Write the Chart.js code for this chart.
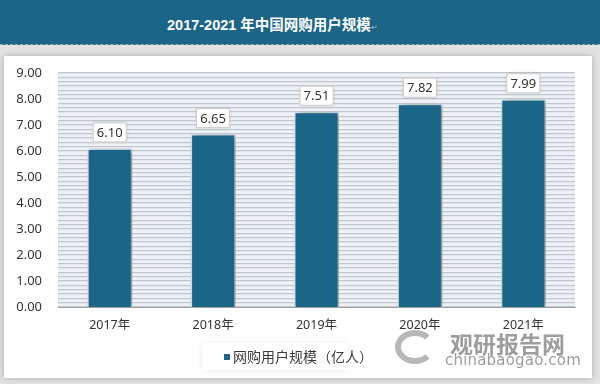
<!DOCTYPE html>
<html>
<head>
<meta charset="utf-8">
<script src="https://cdn.jsdelivr.net/npm/chart.js@4/dist/chart.umd.min.js"></script>
<style>
  body { margin: 0; width: 600px; height: 384px; background: #e2e2e2; overflow: hidden; position: relative;
         font-family: "Noto Sans", "Noto Sans CJK SC", sans-serif; }
  #titlebar { position: absolute; left: 0; top: 0; width: 600px; height: 44px; background: #1b6587;
              border-bottom: 1px dashed #8fb0c4; }
  #titlebar span { position: absolute; left: 167px; top: 13px; color: #fff; font: bold 14.5px "Liberation Sans", "Noto Sans CJK SC", sans-serif; }
  #titlebar small { font-size: 8px; color: #9fc0d4; font-weight: normal; }
  #panel { position: absolute; left: 4px; top: 56px; width: 588px; height: 322px; background: #fff;
           box-shadow: 0 0 6px rgba(0,0,0,0.25); }
  #chartbox { position: absolute; left: 0; top: 0; width: 600px; height: 384px; }
  #legend { position: absolute; left: 202px; top: 343px; width: 146px; height: 27px; background: #fff;
            box-shadow: 0 0 8px rgba(0,0,0,0.08); font: 14px "Noto Sans CJK SC", sans-serif; color: #3a3a3a; }
  #legend i { position: absolute; left: 22px; top: 11px; width: 6px; height: 6px; background: #1b6587; }
  #legend b { position: absolute; left: 31px; top: 3px; font-weight: normal; white-space: nowrap; }
  #mark { position: absolute; left: 395px; top: 326px; width: 185px; height: 44px; color: #858585; opacity: 0.8; }
  #mark .logo { position: absolute; left: 0; top: 4px; width: 40px; height: 34px; border-radius: 50%;
                border: 6px solid #a5a5a5; border-right-color: transparent; box-sizing: border-box; }
  #mark .cn { position: absolute; left: 55px; top: 0; font: bold 23px "Noto Sans CJK SC", sans-serif; }
  #mark .en { position: absolute; left: 50px; top: 25px; font: 15px "DejaVu Sans", sans-serif; letter-spacing: 0.2px; }
</style>
</head>
<body>
<div id="titlebar"><span>2017-2021 年中国网购用户规模<small>↵</small></span></div>
<div id="panel"></div>
<div id="chartbox"><canvas id="Chart" width="600" height="384"></canvas></div>
<div id="legend"><i></i><b>网购用户规模（亿人）</b></div>
<div id="mark"><div class="logo"></div><div class="cn">观研报告网</div><div class="en">chinabaogao.com</div></div>
<script>
const years = ["2017年", "2018年", "2019年", "2020年", "2021年"];
const users = [6.10, 6.65, 7.51, 7.82, 7.99];
const seriesName = "网购用户规模（亿人）";

const plotBg = {
  id: "plotBg",
  beforeDraw(chart) {
    const { ctx, chartArea: a } = chart;
    ctx.save();
    ctx.fillStyle = "#edf1f5";
    ctx.fillRect(a.left, a.top, a.right - a.left, a.bottom - a.top);
    ctx.restore();
  },
  beforeDatasetsDraw(chart) {
    const ctx = chart.ctx;
    ctx.save();
    ctx.shadowColor = "rgba(0,0,0,0.4)";
    ctx.shadowBlur = 6;
    ctx.shadowOffsetX = 3;
    ctx.shadowOffsetY = 1;
  },
  afterDatasetsDraw(chart) {
    const ctx = chart.ctx;
    ctx.restore();
    const meta = chart.getDatasetMeta(0);
    ctx.save();
    ctx.font = "13px 'Noto Sans', sans-serif";
    ctx.textAlign = "center";
    ctx.textBaseline = "middle";
    meta.data.forEach((bar, i) => {
      const txt = users[i].toFixed(2);
      const w = 34, h = 20;
      const x = bar.x - w / 2, y = bar.y - 6 - h;
      ctx.shadowColor = "rgba(0,0,0,0.2)";
      ctx.shadowBlur = 3;
      ctx.fillStyle = "#fff";
      ctx.fillRect(x, y, w, h);
      ctx.shadowBlur = 0;
      ctx.strokeStyle = "#c9c9c9";
      ctx.lineWidth = 1;
      ctx.strokeRect(x + 0.5, y + 0.5, w - 1, h - 1);
      ctx.fillStyle = "#333";
      ctx.fillText(txt, bar.x, y + h / 2 + 1);
    });
    ctx.restore();
  }
};

new Chart(document.getElementById("Chart"), {
  type: "bar",
  data: {
    labels: years,
    datasets: [{
      label: seriesName,
      data: users,
      backgroundColor: "#1b6587",
      borderColor: "#d6e4ee",
      borderWidth: 1.5,
      borderSkipped: "bottom",
      barPercentage: 0.435,
      categoryPercentage: 1
    }]
  },
  options: {
    responsive: false,
    animation: false,
    layout: { padding: { top: 73, right: 25, bottom: 0, left: 0 } },
    plugins: { legend: { display: false }, tooltip: { enabled: false } },
    scales: {
      x: {
        grid: { display: false, drawTicks: false },
        border: { color: "#a0a0a0", width: 1 },
        ticks: { color: "#333", font: { size: 12.5, family: "'Noto Sans', 'Noto Sans CJK SC', sans-serif" }, padding: 11 },
        afterFit(s) { s.height = 77; }
      },
      y: {
        min: 0, max: 9,
        grid: { display: false, drawTicks: false },
        border: { display: false },
        ticks: { stepSize: 1, color: "#333", padding: 16,
                 font: { size: 13, family: "'Noto Sans', sans-serif" },
                 callback: v => v.toFixed(2) },
        afterFit(s) { s.width = 58; }
      },
      y2: {
        position: "left",
        min: 0, max: 9,
        grid: { color: "#c0c7ce", lineWidth: 1.3, drawTicks: false },
        border: { display: false },
        ticks: { display: false, stepSize: 1 / 6 },
        afterFit(s) { s.width = 0; }
      }
    }
  },
  plugins: [plotBg]
});
</script>
</body>
</html>
